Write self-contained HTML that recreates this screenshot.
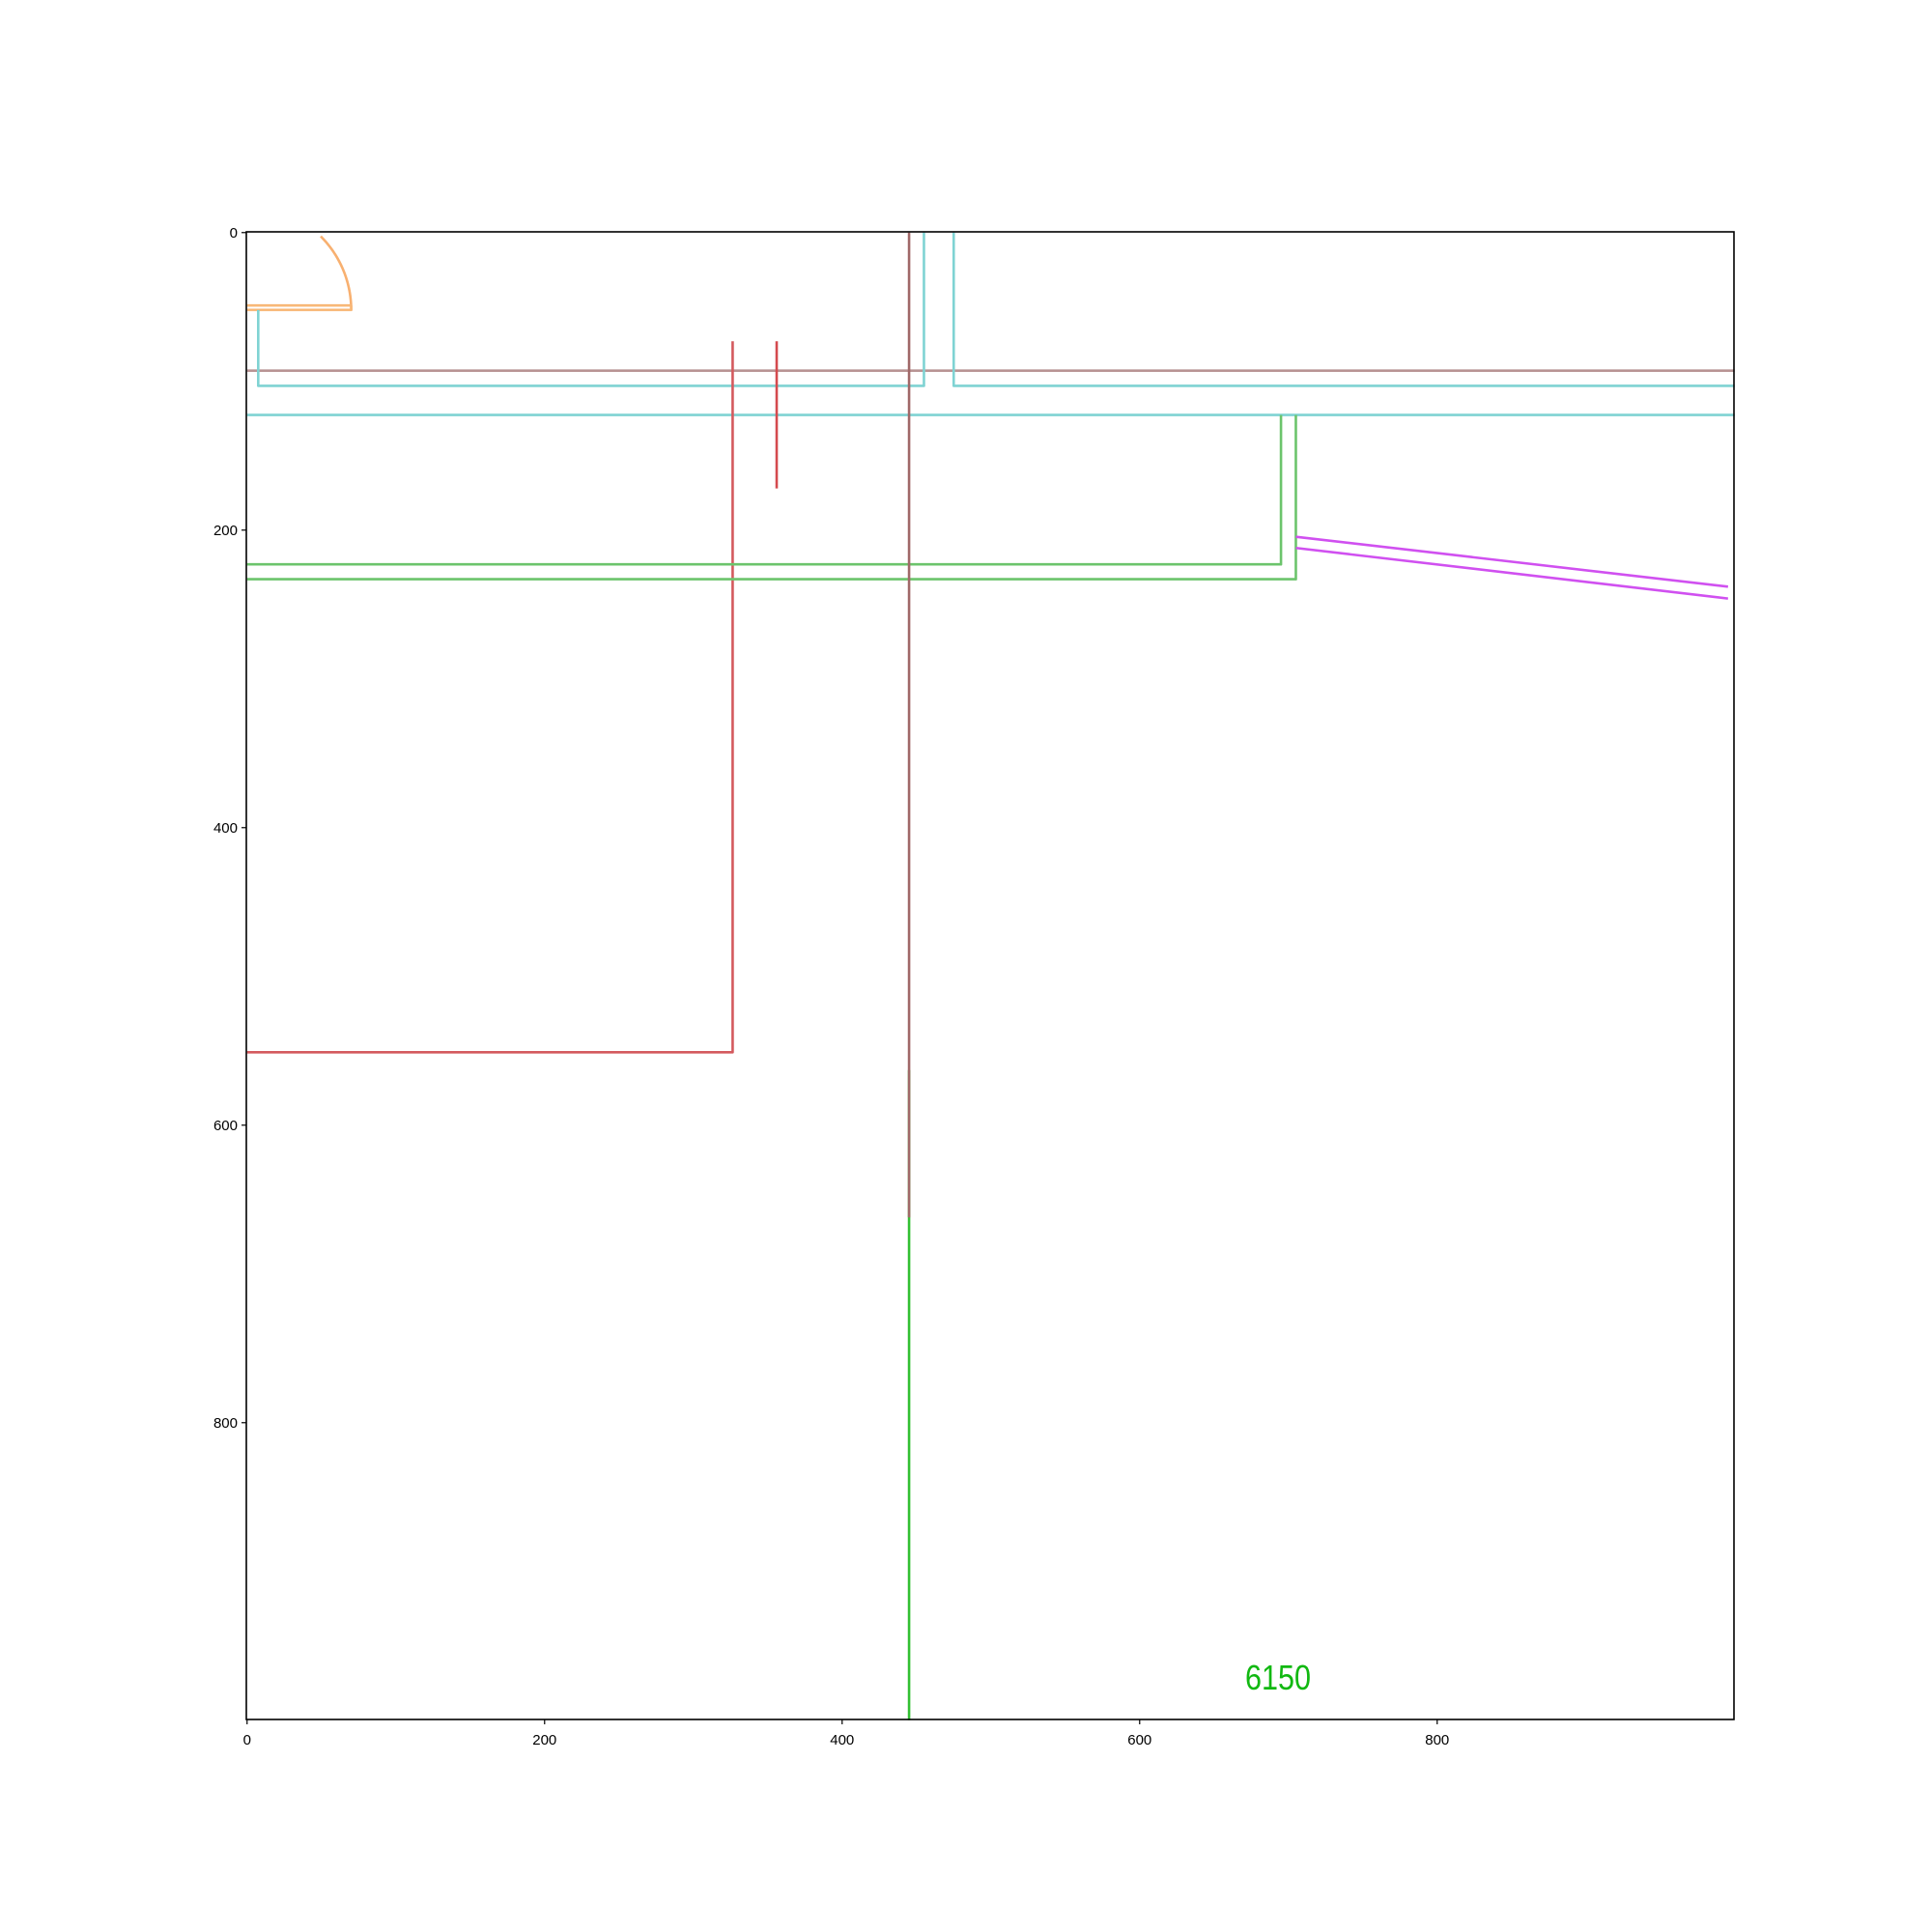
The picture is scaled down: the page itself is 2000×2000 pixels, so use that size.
<!DOCTYPE html>
<html><head><meta charset="utf-8"><style>
html,body{margin:0;padding:0;background:#fff}
svg{display:block}
text{font-family:"Liberation Sans","DejaVu Sans",sans-serif}
</style></head><body>
<svg id="chart" width="2000" height="2000" xmlns="http://www.w3.org/2000/svg">
<rect width="2000" height="2000" fill="#fff"/>
<g id="marks"></g>
<rect x="255" y="240" width="1540" height="1540" fill="none" stroke="#000" stroke-width="1.6"/>
<g id="axes"></g>
</svg>
<script>
const xTicks = [0, 200, 400, 600, 800];
const yTicks = [0, 200, 400, 600, 800];
const orangeArcCenter = [0, 52];
const orangeArcRadius = 70;
const orangeLine1 = [[0,49],[70,49]];
const orangeLine2 = [[0,52],[70,52],[70,49]];
const cyanPath1 = [[7.5,52],[7.5,103],[455,103],[455,0]];
const cyanPath2 = [[475,0],[475,103],[1000,103]];
const cyanLine3 = [[0,122.6],[1000,122.6]];
const brownH = [[0,92.8],[1000,92.8]];
const brownV = [[445,0],[445,662]];
const greenV = [[445,563],[445,1000]];
const redPath = [[326.4,73],[326.4,551],[0,551]];
const redShort = [[356,73],[356,172]];
const greenPath1 = [[695,122.6],[695,223],[0,223]];
const greenPath2 = [[705,122.6],[705,233],[0,233]];
const magenta1 = [[705,204.5],[995.5,238]];
const magenta2 = [[705,212],[995.5,246]];
const labelText = ["6150"];
const labelPos = [693, 971];

const X0=255, Y0=240, S=1540, D0=-0.5, D1=999.5;
const sx = v => X0 + (v - D0) / (D1 - D0) * S;
const sy = v => Y0 + (v - D0) / (D1 - D0) * S;
const NS = "http://www.w3.org/2000/svg";
const marks = document.getElementById('marks');
const axes = document.getElementById('axes');

function poly(pts, color, name, w) {
  const p = document.createElementNS(NS, 'polyline');
  p.setAttribute('points', pts.map(q => sx(q[0]) + ',' + sy(q[1])).join(' '));
  p.setAttribute('fill', 'none');
  p.setAttribute('stroke', color);
  p.setAttribute('stroke-width', w || 2.6);
  p.setAttribute('stroke-linejoin', 'round');
  
  
  marks.appendChild(p);
}
(function(){
  const pts = [];
  for (let a = 0; a <= 45; a += 1) {
    const r = a * Math.PI / 180;
    pts.push([orangeArcCenter[0] + orangeArcRadius * Math.cos(r), orangeArcCenter[1] - orangeArcRadius * Math.sin(r)]);
  }
  poly(pts.filter(q => q[1] >= 1), '#f8b070', 'orange-arc');
})();
poly(orangeLine1, '#f8b878', 'orange-line-1');
poly(orangeLine2, '#f8b878', 'orange-line-2');
poly(brownH, '#b89494', 'brown-horizontal');
poly(cyanPath1, '#7fd3d3', 'cyan-path-1');
poly(cyanPath2, '#7fd3d3', 'cyan-path-2');
poly(cyanLine3, '#7fd3d3', 'cyan-line-3');
poly(redPath, '#d45a5e', 'red-path');
poly(redShort, '#d44a4e', 'red-short');
poly(greenPath1, '#6cc46c', 'green-path-1');
poly(greenPath2, '#6cc46c', 'green-path-2');
poly(greenV, '#33c033', 'green-vertical');
poly(brownV, '#a06868', 'brown-vertical');
poly(magenta1, '#d050f0', 'magenta-curve-1');
poly(magenta2, '#d050f0', 'magenta-curve-2');

const t = document.createElementNS(NS, 'text');
t.setAttribute('x', sx(labelPos[0]));
t.setAttribute('y', sy(labelPos[1]) + 13);
t.setAttribute('text-anchor', 'middle');
t.setAttribute('font-size', '36');
t.setAttribute('textLength', '68');
t.setAttribute('lengthAdjust', 'spacingAndGlyphs');
t.setAttribute('fill', '#11b811');


t.textContent = labelText[0];
marks.appendChild(t);

xTicks.forEach(v => {
  const l = document.createElementNS(NS, 'line');
  l.setAttribute('x1', sx(v)); l.setAttribute('x2', sx(v));
  l.setAttribute('y1', 1780); l.setAttribute('y2', 1785);
  l.setAttribute('stroke', '#000'); l.setAttribute('stroke-width', 1.2);
  
  
  axes.appendChild(l);
  const tx = document.createElementNS(NS, 'text');
  tx.setAttribute('x', sx(v)); tx.setAttribute('y', 1806);
  tx.setAttribute('text-anchor', 'middle'); tx.setAttribute('font-size', '15');
  
  
  tx.textContent = v;
  axes.appendChild(tx);
});
yTicks.forEach(v => {
  const l = document.createElementNS(NS, 'line');
  l.setAttribute('x1', 250); l.setAttribute('x2', 255);
  l.setAttribute('y1', sy(v)); l.setAttribute('y2', sy(v));
  l.setAttribute('stroke', '#000'); l.setAttribute('stroke-width', 1.2);
  
  
  axes.appendChild(l);
  const tx = document.createElementNS(NS, 'text');
  tx.setAttribute('x', 246); tx.setAttribute('y', sy(v) + 5);
  tx.setAttribute('text-anchor', 'end'); tx.setAttribute('font-size', '15');
  
  
  tx.textContent = v;
  axes.appendChild(tx);
});
</script>
</body></html>
